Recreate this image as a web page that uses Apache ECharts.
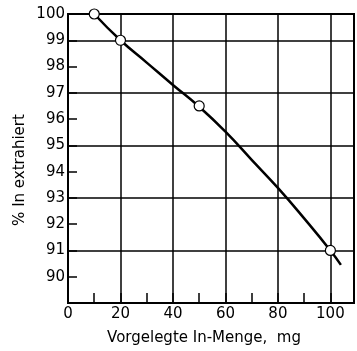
<!DOCTYPE html>
<html><head><meta charset="utf-8">
<script src="https://cdn.jsdelivr.net/npm/echarts@6/dist/echarts.min.js"></script>
<style>html,body{margin:0;padding:0;background:#fff}#c{width:357px;height:351px}</style>
</head><body><div id="c"></div>
<script>
// measured points (open circles)
const pointX = [10, 20, 50, 100];
const pointY = [100, 99, 96.5, 91];
// drawn curve
const curveX = [10, 20, 30, 40, 50, 60, 70, 80, 90, 100, 104];
const curveY = [100, 99, 98.15, 97.3, 96.47, 95.52, 94.45, 93.38, 92.22, 91, 90.45];
const xLabelValues = [0, 20, 40, 60, 80, 100];
const gridYValues = [91, 93, 95, 97, 99];
const xTitle = 'Vorgelegte In-Menge,  mg';
const yTitle = '% In extrahiert';

const font = 'DejaVu Sans';
const chart = echarts.init(document.getElementById('c'));
chart.setOption({
  animation: false,
  backgroundColor: '#fff',
  grid: {left: 68, right: 2, top: 14, bottom: 47, show: true, borderColor: '#000', borderWidth: 2, containLabel: false},
  xAxis: {
    type: 'value', min: 0, max: 109, interval: 10,
    axisLine: {lineStyle: {color: '#000', width: 2}},
    axisTick: {show: true, inside: true, length: 10, lineStyle: {color: '#000', width: 1.5}},
    axisLabel: {color: '#000', fontFamily: font, fontSize: 15, margin: 4,
      formatter: v => xLabelValues.indexOf(v) >= 0 ? String(v) : ''},
    splitLine: {show: true, lineStyle: {color: ['#000', 'rgba(0,0,0,0)'], width: 1.5}},
    name: xTitle, nameLocation: 'middle', nameGap: 28,
    nameTextStyle: {color: '#000', fontFamily: font, fontSize: 15, padding: [0, 14, 0, 0]}
  },
  yAxis: {
    type: 'value', min: 89, max: 100, interval: 1,
    axisLine: {lineStyle: {color: '#000', width: 2}},
    axisTick: {show: true, inside: true, length: 9, lineStyle: {color: '#000', width: 1.5}},
    axisLabel: {color: '#000', fontFamily: font, fontSize: 15, margin: 3,
      formatter: v => v === 89 ? '' : String(v)},
    splitLine: {show: false}
  },
  graphic: [{
    type: 'text', x: 20, y: 170, rotation: Math.PI / 2,
    style: {text: yTitle, fill: '#000', font: '15px "DejaVu Sans"', align: 'center', verticalAlign: 'middle'}
  }],
  series: [
    {type: 'line', data: curveX.map((x, i) => [x, curveY[i]]), smooth: true, showSymbol: false,
      lineStyle: {color: '#000', width: 2.5}, z: 3,
      markLine: {silent: true, symbol: 'none', animation: false, label: {show: false},
        lineStyle: {color: '#000', width: 1.5, type: 'solid'},
        data: gridYValues.map(v => ({yAxis: v}))}},
    {type: 'scatter', data: pointX.map((x, i) => [x, pointY[i]]), symbol: 'circle', symbolSize: 10,
      itemStyle: {color: '#fff', opacity: 1, borderColor: '#000', borderWidth: 1.2}, z: 5}
  ]
});
</script></body></html>
